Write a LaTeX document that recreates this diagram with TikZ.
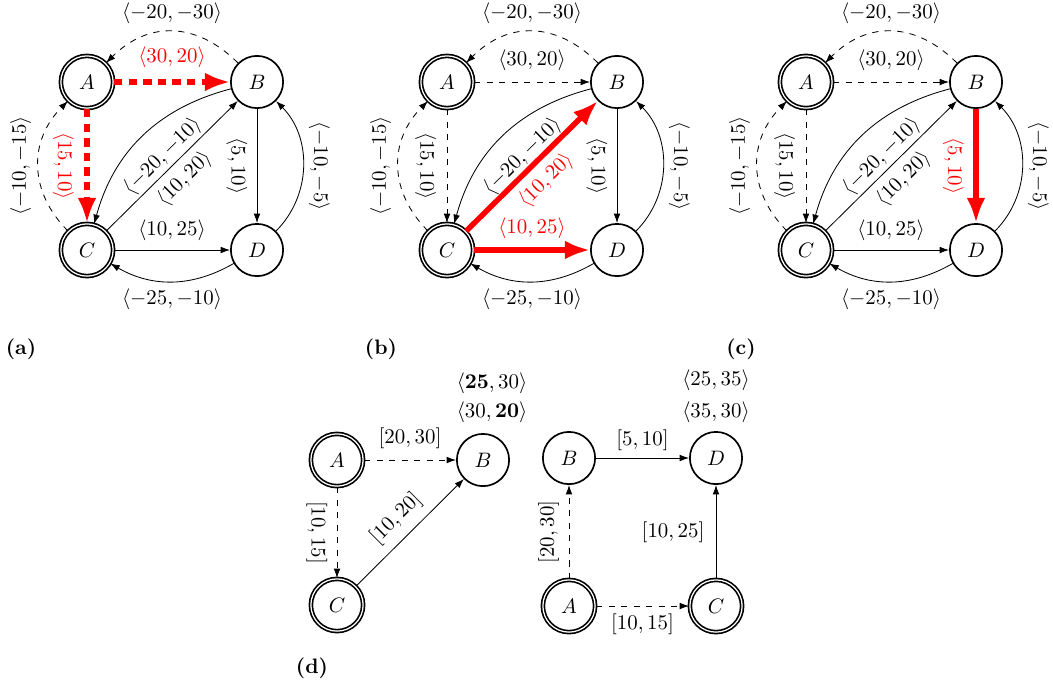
\documentclass[tikz,border=0pt]{standalone}
\usetikzlibrary{arrows.meta}
\begin{document}
\tikzset{
 st/.style={circle,draw,thick,minimum size=25pt,inner sep=0pt},
 acc/.style={st,double},
 ed/.style={thin,-{Latex[length=4.5pt,width=3.2pt]}},
 hl/.style={draw=red,line width=2.6pt,-{Latex[length=12pt,width=9pt]}},
 hld/.style={hl,dash pattern=on 4pt off 3pt},
 hlt/.style={text=red},
 plain/.style={},
 pnl/.style={font=\bfseries},
}
\newcommand\fourgraph[1]{%
 \node[acc] (#1A) at (87,82) {$A$};
 \node[st] (#1B) at (257,82) {$B$};
 \node[acc] (#1C) at (87,250) {$C$};
 \node[st] (#1D) at (257,250) {$D$};
 \draw[ed,dashed] (#1B) to[bend right=45,looseness=1.15] node[above] {$\langle -20,-30\rangle$} (#1A);
 \draw[abE] (#1A) -- node[above=2pt,abL] {$\langle 30,20\rangle$} (#1B);
 \draw[acE] (#1A) -- node[rotate=-90,anchor=north,inner ysep=5pt,acL] {$\langle 15,10\rangle$} (#1C);
 \draw[ed,dashed] (#1C) to[bend left=45,looseness=1.1] node[rotate=90,anchor=south] {$\langle -10,-15\rangle$} (#1A);
 \draw[ed] (#1B) to[bend right=30] node[sloped,below=5pt] {$\langle -20,-10\rangle$} (#1C);
 \draw[cbE] (#1C) -- node[sloped,below,cbL] {$\langle 10,20\rangle$} (#1B);
 \draw[bdE] (#1B) -- node[rotate=-90,anchor=north,inner ysep=4.5pt,bdL] {$\langle 5,10\rangle$} (#1D);
 \draw[ed] (#1D) to[bend right=45] node[rotate=-90,anchor=south,inner xsep=0pt,inner ysep=2.6pt] {$\langle -10,-5\rangle$} (#1B);
 \draw[cdE] (#1C) -- node[above=1pt,cdL] {$\langle 10,25\rangle$} (#1D);
 \draw[ed] (#1D) to[bend left=30] node[below] {$\langle -25,-10\rangle$} (#1C);
}
\begin{tikzpicture}[x=0.4785pt,y=-0.4785pt]
\useasboundingbox (0,0) rectangle (1053,689);
% panel (a)
\begin{scope}[abE/.style={hld},abL/.style={hlt},acE/.style={hld},acL/.style={hlt},
  cbE/.style={ed},cbL/.style={plain},bdE/.style={ed},bdL/.style={plain},cdE/.style={ed},cdL/.style={plain}]
 \fourgraph{a}
\end{scope}
% panel (b)
\begin{scope}[shift={(360,0)},abE/.style={ed,dashed},abL/.style={plain},acE/.style={ed,dashed},acL/.style={plain},
  cbE/.style={hl},cbL/.style={hlt},bdE/.style={ed},bdL/.style={plain},cdE/.style={hl},cdL/.style={hlt}]
 \fourgraph{b}
\end{scope}
% panel (c)
\begin{scope}[shift={(719,0)},abE/.style={ed,dashed},abL/.style={plain},acE/.style={ed,dashed},acL/.style={plain},
  cbE/.style={ed},cbL/.style={plain},bdE/.style={hl},bdL/.style={hlt},cdE/.style={ed},cdL/.style={plain}]
 \fourgraph{c}
\end{scope}
\node[pnl] (la) at (21,349) {(a)};
\node[pnl] (lb) at (381,349) {(b)};
\node[pnl] (lc) at (741,349) {(c)};
\node[pnl] (ld) at (312,668) {(d)};
% panel (d) left
\node[acc] (dA) at (337,460) {$A$};
\node[st] (dB) at (483,460) {$B$};
\node[acc] (dC) at (337,605) {$C$};
\draw[ed,dashed] (dA) -- node[above=2pt] {$[20,30]$} (dB);
\draw[ed,dashed] (dA) -- node[rotate=-90,anchor=north,inner ysep=4.5pt] {$[10,15]$} (dC);
\draw[ed] (dC) -- node[sloped,above=1pt] {$[10,20]$} (dB);
\node (dB1) at (492,412) {$\langle 30,\mathbf{20}\rangle$};
\node (dB2) at (492,383) {$\langle \mathbf{25},30\rangle$};
% panel (d) right
\node[st] (eB) at (569,458) {$B$};
\node[st] (eD) at (716,458) {$D$};
\node[acc] (eA) at (569,606) {$A$};
\node[acc] (eC) at (716,606) {$C$};
\draw[ed] (eB) -- node[above] {$[5,10]$} (eD);
\draw[ed,dashed] (eA) -- node[rotate=90,anchor=south,inner ysep=4.5pt] {$[20,30]$} (eB);
\draw[ed,dashed] (eA) -- node[below] {$[10,15]$} (eC);
\draw[ed] (eC) -- node[left=2pt] {$[10,25]$} (eD);
\node (eD1) at (716,412) {$\langle 35,30\rangle$};
\node (eD2) at (716,380) {$\langle 25,35\rangle$};
\end{tikzpicture}
\end{document}
